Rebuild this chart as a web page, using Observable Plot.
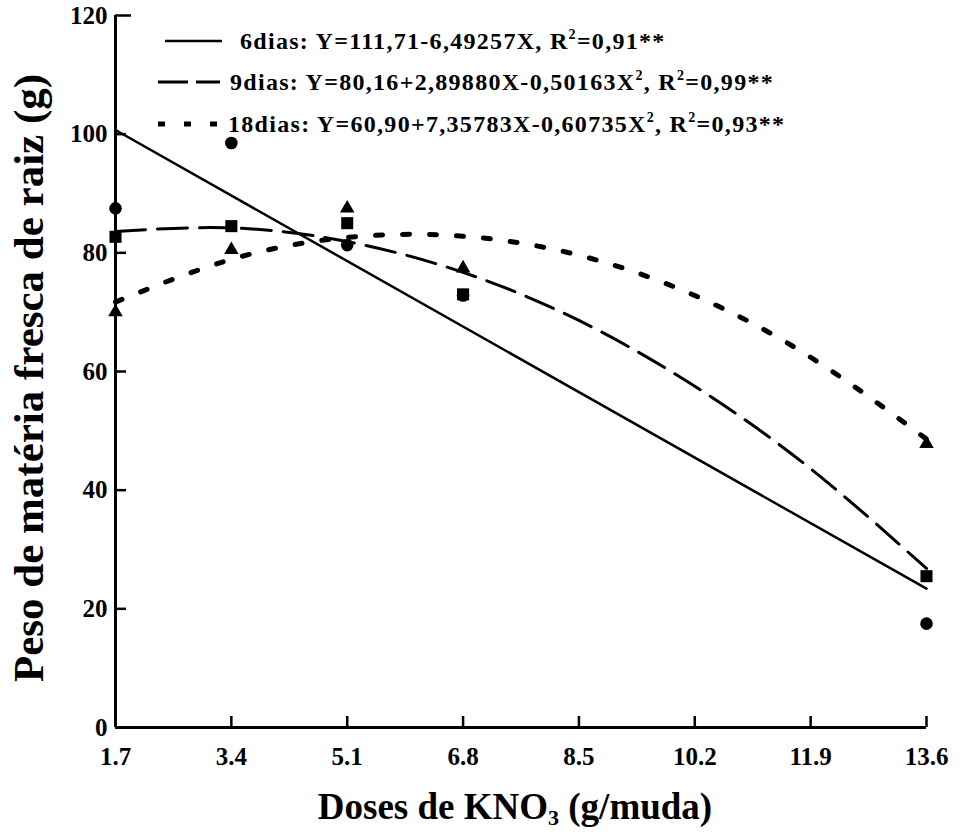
<!DOCTYPE html>
<html>
<head>
<meta charset="utf-8">
<script src="https://cdn.jsdelivr.net/npm/d3@7"></script>
<script src="https://cdn.jsdelivr.net/npm/@observablehq/plot@0.6"></script>
<style>
  html, body { margin: 0; padding: 0; background: #fff; }
  #wrap { position: relative; width: 961px; height: 836px; font-family: "Liberation Serif", "Times New Roman", serif; font-weight: bold; color: #000; }
  #wrap svg.plot { position: absolute; left: 0; top: 0; }
  .ylab { position: absolute; left: 28px; top: 378px; transform: translate(-50%, -50%) rotate(-90deg); white-space: nowrap; font-size: 43px; line-height: 1; }
  .xlab { position: absolute; left: 515px; top: 808px; transform: translate(-50%, -50%); white-space: nowrap; font-size: 37px; line-height: 1; }
  .xlab sub { font-size: 22px; vertical-align: -6px; }
  .leg { position: absolute; white-space: nowrap; font-size: 24px; letter-spacing: 1.3px; line-height: 28px; }
  .leg sup { font-size: 14px; position: relative; top: -10px; vertical-align: baseline; line-height: 0; }
</style>
</head>
<body>
<div id="wrap"></div>
<script>
// ---- data ----
const doses = [1.7, 3.4, 5.1, 6.8, 13.6];
const obs6  = [87.5, 98.5, 81.3, 72.8, 17.5];   // circles
const obs9  = [82.7, 84.5, 85.0, 73.0, 25.5];   // squares
const obs18 = [70.0, 80.5, 87.5, 77.4, 47.8];   // triangles

const curveX   = [1.7, 3.4, 5.1, 6.8, 8.5, 10.2, 11.9, 13.6];
const fit6X    = [1.7, 13.6];
const fit6Y    = [100.7, 23.4];
const fit9Y    = [83.6, 84.2, 81.9, 76.7, 68.6, 57.5, 43.6, 26.8];
const fit18Y   = [71.7, 78.9, 82.6, 82.8, 79.6, 72.8, 62.4, 48.6];

const xTicks = [1.7, 3.4, 5.1, 6.8, 8.5, 10.2, 11.9, 13.6];
const yTicks = [0, 20, 40, 60, 80, 100, 120];

const legendLabels = [
  "6dias: Y=111,71-6,49257X, R<sup>2</sup>=0,91**",
  "9dias: Y=80,16+2,89880X-0,50163X<sup>2</sup>, R<sup>2</sup>=0,99**",
  "18dias: Y=60,90+7,35783X-0,60735X<sup>2</sup>, R<sup>2</sup>=0,93**"
];

// ---- build ----
const W = 961, H = 836, mL = 115, mR = 35, mT = 15, mB = 109;
const pts = (xs, ys) => xs.map((x, i) => ({x, y: ys[i]}));

const chart = Plot.plot({
  width: W, height: H,
  marginLeft: mL, marginRight: mR, marginTop: mT, marginBottom: mB,
  style: {fontFamily: "'Liberation Serif', 'Times New Roman', serif", fontWeight: "bold", fontSize: "25px", background: "#fff", color: "#000"},
  x: {domain: [1.7, 13.6]},
  y: {domain: [0, 120]},
  marks: [
    Plot.axisX({ticks: xTicks, tickSize: 0, tickPadding: 20, tickFormat: d => d.toFixed(1), label: null, fontSize: 25, fontWeight: "bold"}),
    Plot.axisY({ticks: yTicks, tickSize: 0, tickPadding: 8, label: null, fontSize: 25, fontWeight: "bold"}),
    // inward ticks
    Plot.tickY(yTicks.slice(1, -1), {y: d => d, insetRight: W - mL - mR - 11, stroke: "#000", strokeWidth: 2.5}),
    Plot.tickY([120], {y: d => d, insetRight: W - mL - mR - 16, stroke: "#000", strokeWidth: 2.5}),
    Plot.tickX(xTicks.slice(1), {x: d => d, insetTop: H - mT - mB - 11, stroke: "#000", strokeWidth: 2.5}),
    Plot.ruleX([1.7], {stroke: "#000", strokeWidth: 3}),
    Plot.ruleY([0], {stroke: "#000", strokeWidth: 3}),
    // fitted curves
    Plot.line(pts(fit6X, fit6Y), {x: "x", y: "y", stroke: "#000", strokeWidth: 2.5}),
    Plot.line(pts(curveX, fit9Y), {x: "x", y: "y", curve: "natural", stroke: "#000", strokeWidth: 3, strokeDasharray: "30,12"}),
    Plot.line(pts(curveX, fit18Y), {x: "x", y: "y", curve: "natural", stroke: "#000", strokeWidth: 5, strokeDasharray: "7,20"}),
    // observed points
    Plot.dot(pts(doses, obs6), {x: "x", y: "y", symbol: "circle", r: 6.3, fill: "#000"}),
    Plot.dot(pts(doses, obs9), {x: "x", y: "y", symbol: "square", r: 6.8, fill: "#000"}),
    Plot.dot(pts(doses, obs18), {x: "x", y: "y", symbol: "triangle", r: 5.4, fill: "#000"})
  ]
});
chart.classList.add("plot");
const wrap = document.getElementById("wrap");
wrap.appendChild(chart);

// axis titles
const yl = document.createElement("div");
yl.className = "ylab";
yl.textContent = "Peso de matéria fresca de raiz (g)";
wrap.appendChild(yl);
const xl = document.createElement("div");
xl.className = "xlab";
xl.innerHTML = "Doses de KNO<sub>3</sub> (g/muda)";
wrap.appendChild(xl);

// legend
const samples = [
  {x1: 165, x2: 222, w: 2.5, dash: null},
  {x1: 158, x2: 220, w: 3, dash: "30,8"},
  {x1: 158, x2: 218, w: 5, dash: "7,19"}
];
const legTops = [41, 82, 124];
const textLeft = [240, 230, 228];
legendLabels.forEach((lab, i) => {
  const s = samples[i];
  const ns = "http://www.w3.org/2000/svg";
  const svg = document.createElementNS(ns, "svg");
  svg.setAttribute("width", 80); svg.setAttribute("height", 10);
  svg.style.position = "absolute";
  svg.style.left = (s.x1) + "px";
  svg.style.top = (legTops[i] - 5) + "px";
  const ln = document.createElementNS(ns, "line");
  ln.setAttribute("x1", 0); ln.setAttribute("x2", s.x2 - s.x1);
  ln.setAttribute("y1", 5); ln.setAttribute("y2", 5);
  ln.setAttribute("stroke", "#000"); ln.setAttribute("stroke-width", s.w);
  if (s.dash) ln.setAttribute("stroke-dasharray", s.dash);
  svg.appendChild(ln);
  wrap.appendChild(svg);
  const d = document.createElement("div");
  d.className = "leg";
  d.style.left = textLeft[i] + "px";
  d.style.top = (legTops[i] - 14) + "px";
  d.innerHTML = lab;
  wrap.appendChild(d);
});
</script>
</body>
</html>
